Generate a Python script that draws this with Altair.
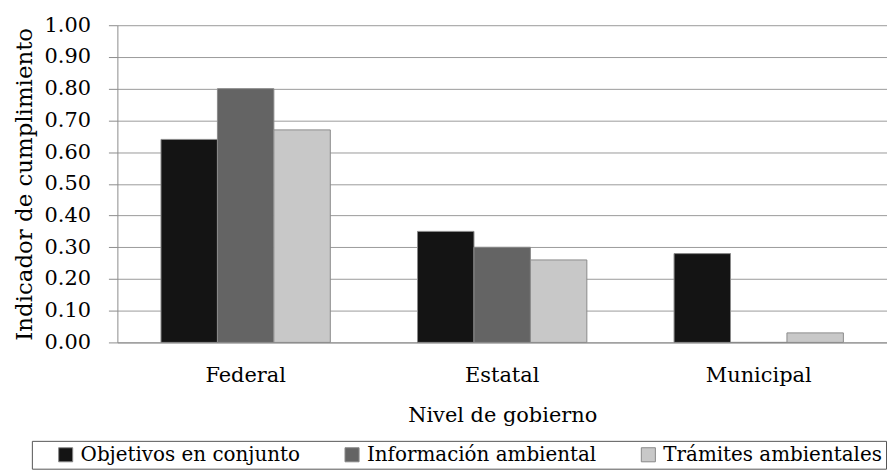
import altair as alt
import pandas as pd

niveles = ["Federal", "Estatal", "Municipal"]
series = ["Objetivos en conjunto", "Información ambiental", "Trámites ambientales"]
objetivos = [0.64, 0.35, 0.28]
informacion = [0.80, 0.30, 0.00]
tramites = [0.67, 0.26, 0.03]
colores = ["#141414", "#646464", "#c8c8c8"]

rows = []
for i, n in enumerate(niveles):
    for s, vals in zip(series, [objetivos, informacion, tramites]):
        rows.append({"nivel": n, "serie": s, "valor": vals[i]})
df = pd.DataFrame(rows)

FONT = "DejaVu Serif"

chart = alt.Chart(df).mark_bar(stroke="#8a8a8a", strokeWidth=1).encode(
    x=alt.X("nivel:N", sort=niveles, title="Nivel de gobierno",
            scale=alt.Scale(paddingInner=0.34, paddingOuter=0.17),
            axis=alt.Axis(labelAngle=0, ticks=False, labelPadding=22, titlePadding=20,
                          domainColor="#8c8c8c", labelFontSize=21, titleFontSize=21)),
    xOffset=alt.XOffset("serie:N", sort=series),
    y=alt.Y("valor:Q", title="Indicador de cumplimiento",
            scale=alt.Scale(domain=[0, 1]),
            axis=alt.Axis(values=[i / 10 for i in range(11)], format=".2f", tickSize=9,
                          labelPadding=18, titlePadding=8, domainColor="#8c8c8c",
                          tickColor="#8c8c8c", gridColor="#9a9a9a", labelFontSize=21,
                          titleFontSize=23)),
    color=alt.Color("serie:N", sort=series,
                    scale=alt.Scale(domain=series, range=colores),
                    legend=alt.Legend(title=None, orient="none", direction="horizontal",
                                      legendX=-86, legendY=418, symbolType="square",
                                      symbolSize=200, symbolStrokeColor="#888888",
                                      symbolStrokeWidth=1, labelFontSize=20,
                                      columnPadding=22, symbolOffset=20, labelOffset=5,
                                      padding=4, strokeColor="#555555", labelLimit=400)),
).properties(width=774, height=319, padding={"left": 5, "top": 5, "right": 0, "bottom": 0}).configure(
    font=FONT
).configure_axis(
    labelColor="black", titleColor="black", titleFontWeight="normal", labelFont=FONT, titleFont=FONT
).configure_view(stroke=None).configure_legend(labelFont=FONT, labelColor="black")

chart.save("out.html", embed_options={"renderer": "svg", "actions": False})
